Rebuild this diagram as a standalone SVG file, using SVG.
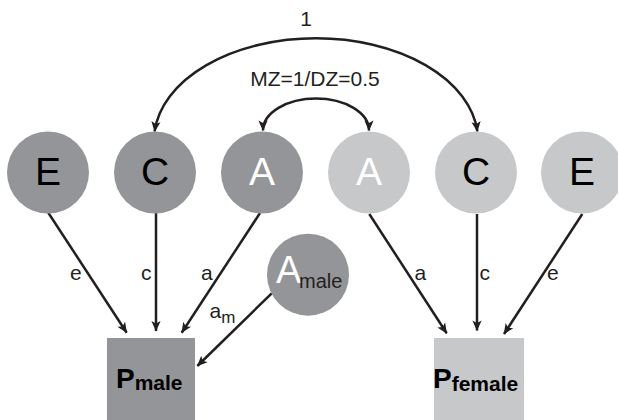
<svg xmlns="http://www.w3.org/2000/svg" width="618" height="420" viewBox="0 0 618 420">
<style>
.dark{fill:#939598}
.light{fill:#c7c8ca}
.lbl{font-family:"Liberation Sans",Arial,Helvetica,sans-serif;font-size:39px;text-anchor:middle;fill:#000}
.wh{fill:#fff}
.edge{fill:none;stroke:#231f20;stroke-width:2.5}
.el{font-family:"Liberation Sans",Arial,Helvetica,sans-serif;font-size:21px;fill:#231f20}
.pb{font-family:"Liberation Sans",Arial,Helvetica,sans-serif;font-weight:bold;fill:#000}
</style>
<defs>
<marker id="ah" viewBox="-11 -5.5 12 11" refX="0" refY="0" markerWidth="12" markerHeight="11" markerUnits="userSpaceOnUse" orient="auto-start-reverse">
<path d="M0.5,0 L-10,-4.6 L-7.5,0 L-10,4.6 Z" fill="#231f20"/>
</marker>
</defs>
<g id="connectors">
<path class="edge" d="M154.6,131.5 A162 102 0 0 1 477.4,131.5" marker-start="url(#ah)" marker-end="url(#ah)"/>
<path class="edge" d="M263,130.5 A53 32 0 0 1 369,130.5" marker-start="url(#ah)" marker-end="url(#ah)"/>
<line class="edge" x1="48.3" y1="212.7" x2="126.7" y2="332.7" marker-end="url(#ah)"/>
<line class="edge" x1="156" y1="213" x2="156" y2="331" marker-end="url(#ah)"/>
<line class="edge" x1="260" y1="213" x2="181.7" y2="332.7" marker-end="url(#ah)"/>
<line class="edge" x1="271.7" y1="293.3" x2="197.3" y2="366" marker-end="url(#ah)"/>
<line class="edge" x1="369.3" y1="214" x2="446.7" y2="333.3" marker-end="url(#ah)"/>
<line class="edge" x1="477" y1="214" x2="477" y2="330.5" marker-end="url(#ah)"/>
<line class="edge" x1="582.3" y1="214" x2="504" y2="334" marker-end="url(#ah)"/>
<text class="el" x="306" y="26" text-anchor="middle">1</text>
<text class="el" x="315" y="85.7" text-anchor="middle">MZ=1/DZ=0.5</text>
<text class="el" x="70" y="280">e</text>
<text class="el" x="141" y="280">c</text>
<text class="el" x="201" y="280">a</text>
<text class="el" x="209.5" y="318">a<tspan font-size="17" dy="5">m</tspan></text>
<text class="el" x="414.5" y="280">a</text>
<text class="el" x="479.5" y="280">c</text>
<text class="el" x="547" y="280">e</text>
</g>
<g id="E_male"><circle class="dark" cx="48" cy="172.5" r="41"/><text class="lbl" x="48" y="185">E</text></g>
<g id="C_male"><circle class="dark" cx="155" cy="172.5" r="41"/><text class="lbl" x="155" y="185">C</text></g>
<g id="A_male_twin"><circle class="dark" cx="262" cy="172.5" r="41"/><text class="lbl wh" x="262" y="185">A</text></g>
<g id="A_female"><circle class="light" cx="369" cy="172.5" r="41"/><text class="lbl wh" x="369" y="185">A</text></g>
<g id="C_female"><circle class="light" cx="476" cy="172.5" r="41"/><text class="lbl" x="476" y="185">C</text></g>
<g id="E_female"><circle class="light" cx="582" cy="172.5" r="41"/><text class="lbl" x="582" y="185">E</text></g>
<g id="A_male_specific"><circle class="dark" cx="308" cy="274.7" r="41"/>
<text class="lbl wh" x="276" y="283" style="text-anchor:start;font-size:38px">A</text>
<text class="el" x="299" y="288" style="font-size:20px">male</text></g>
<g id="P_male"><rect class="dark" x="107" y="338" width="88" height="82"/>
<text class="pb" x="116" y="388"><tspan font-size="28">P</tspan><tspan font-size="21" dy="2">male</tspan></text></g>
<g id="P_female"><rect class="light" x="434" y="338" width="90" height="82"/>
<text class="pb" x="433" y="388"><tspan font-size="28">P</tspan><tspan font-size="21" dy="2.5">female</tspan></text></g>
</svg>
